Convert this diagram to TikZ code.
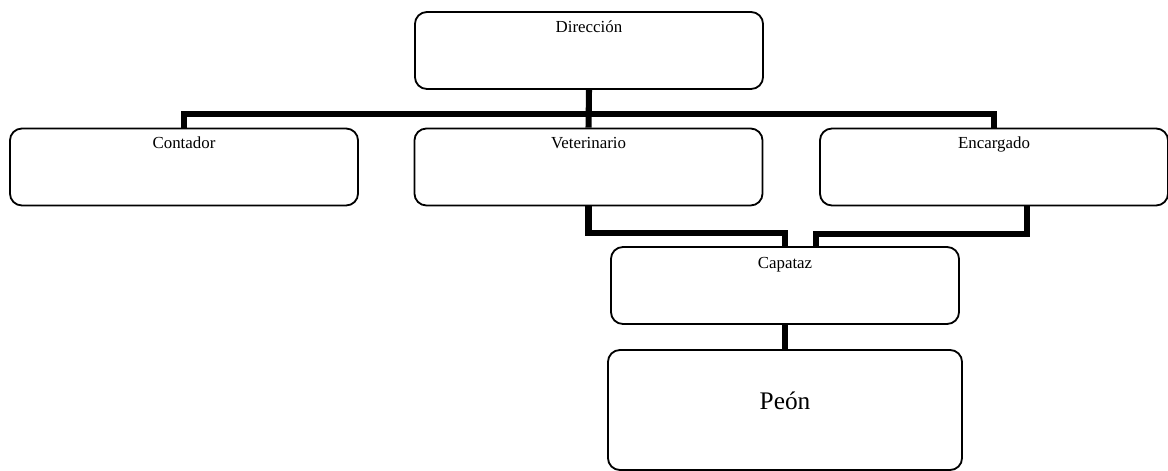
\documentclass[tikz,border=0pt]{standalone}
\usepackage{fontspec}
\setmainfont{Liberation Serif}
\usetikzlibrary{positioning}
\begin{document}
\begin{tikzpicture}
[x=0.025cm, y=-0.025cm, line width=1.3pt,
cargo/.style={rectangle, draw, rounded corners=0.3cm, inner sep=0pt, minimum width=8.7cm, minimum height=1.925cm},
texto/.style={anchor=base, inner sep=0pt, font=\fontsize{12}{14}\selectfont},
enlace/.style={line width=4.3pt}]

\useasboundingbox (0,0) rectangle (1168,471);

\node[cargo] (dir) at (589,50.5) {};
\node[cargo] (cont) at (184,167) {};
\node[cargo] (vet) at (588.5,167) {};
\node[cargo] (enc) at (994,167) {};
\node[cargo] (cap) at (785,285.5) {};
\node[cargo, minimum width=8.85cm, minimum height=3cm] (peon) at (785,410) {};

\node[texto] (tdir) at (589,33) {Dirección};
\node[texto] (tcont) at (184,149) {Contador};
\node[texto] (tvet) at (588.5,149) {Veterinario};
\node[texto] (tenc) at (994,149) {Encargado};
\node[texto] (tcap) at (785,269) {Capataz};
\node[texto, font=\fontsize{18}{21}\selectfont] (tpeon) at (785,409) {Peón};

\coordinate (bus) at (589,114);
\draw[enlace] (dir.south) -- (vet.north);
\draw[enlace] (cont.north) |- (bus) -| (enc.north);
\draw[enlace] (vet.south) -- ++(0,27) -| (cap.north);
\draw[enlace] ([xshift=0.825cm]enc.south) -- ++(0,28) -| ([xshift=0.775cm]cap.north);
\draw[enlace] (cap.south) -- (peon.north);
\end{tikzpicture}
\end{document}
